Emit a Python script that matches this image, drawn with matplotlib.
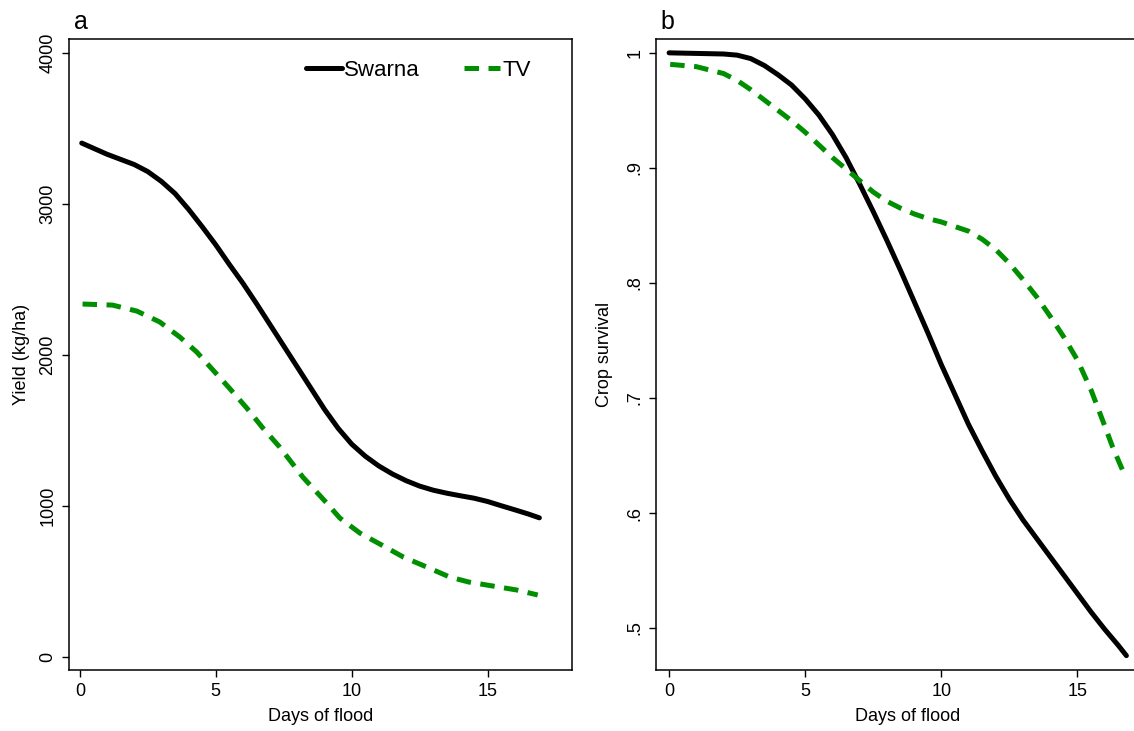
import matplotlib
matplotlib.use("Agg")
import matplotlib.pyplot as plt

plt.rcParams['font.family'] = ['Liberation Sans', 'DejaVu Sans']

# --- panel a: yield (kg/ha) by days of flood ---
days_swarna_yield = [0.07, 1, 2, 2.5, 3, 3.5, 4, 4.5, 5, 5.5, 6, 6.5, 7, 7.5, 8, 8.5,
                     9, 9.5, 10, 10.5, 11, 11.5, 12, 12.5, 13, 13.5, 14, 14.5, 15,
                     15.5, 16, 16.5, 16.9]
swarna_yield = [3404, 3330, 3262, 3215, 3150, 3070, 2965, 2850, 2730, 2600, 2475, 2340,
                2200, 2060, 1920, 1780, 1640, 1515, 1410, 1330, 1265, 1212, 1168, 1132,
                1105, 1085, 1068, 1052, 1030, 1002, 975, 947, 922]

days_tv_yield = [0.1, 1.2, 2.1, 2.94, 3.68, 4.3, 4.9, 5.5, 6.14, 6.73, 7.35, 8.2,
                 9.08, 9.56, 10.3, 11.1, 11.9, 12.76, 13.6, 14.3, 15.2, 16.07, 16.84]
tv_yield = [2338, 2331, 2291, 2219, 2119, 2020, 1900, 1781, 1649, 1517, 1391, 1192,
            1020, 921, 821, 742, 662, 596, 530, 497, 470, 444, 411]

# --- panel b: crop survival by days of flood ---
days_swarna_surv = [0, 1, 2, 2.5, 3, 3.5, 4, 4.5, 5, 5.5, 6, 6.5, 7, 7.5, 8, 8.5, 9,
                    9.5, 10, 10.5, 11, 11.5, 12, 12.5, 13, 13.5, 14, 14.5, 15, 15.5,
                    16, 16.5, 16.8]
swarna_surv = [1.0, 0.9995, 0.999, 0.998, 0.995, 0.989, 0.981, 0.972, 0.960, 0.946,
               0.929, 0.909, 0.886, 0.862, 0.837, 0.811, 0.784, 0.757, 0.729, 0.703,
               0.677, 0.654, 0.632, 0.612, 0.594, 0.578, 0.562, 0.546, 0.530, 0.514,
               0.499, 0.485, 0.476]

days_tv_surv = [0.04, 1, 2, 2.5, 3, 3.5, 4, 4.5, 5, 5.5, 6, 6.5, 7, 7.5, 8, 8.5, 9,
                9.5, 10, 10.5, 11, 11.5, 12, 12.5, 13, 13.5, 14, 14.5, 15, 15.5, 16,
                16.3, 16.7]
tv_surv = [0.990, 0.988, 0.982, 0.976, 0.968, 0.959, 0.950, 0.941, 0.931, 0.920, 0.909,
           0.899, 0.889, 0.879, 0.871, 0.865, 0.860, 0.856, 0.853, 0.849, 0.845, 0.838,
           0.829, 0.817, 0.803, 0.788, 0.771, 0.753, 0.733, 0.707, 0.676, 0.657, 0.635]

x_ticks = [0, 5, 10, 15]
yield_ticks = [0, 1000, 2000, 3000, 4000]
surv_ticks = [0.5, 0.6, 0.7, 0.8, 0.9, 1.0]
surv_labels = ['.5', '.6', '.7', '.8', '.9', '1']

GREEN = '#008f00'
FS = 13

fig = plt.figure(figsize=(11.34, 7.31), dpi=100)
ax_a = fig.add_axes([0.0608, 0.0834, 0.4436, 0.8632])
ax_b = fig.add_axes([0.5785, 0.0834, 0.4436, 0.8632])


def style_axis(ax):
    for s in ax.spines.values():
        s.set_linewidth(1.1)
    ax.tick_params(direction='out', length=5, width=1.0, labelsize=FS, pad=4)
    ax.tick_params(axis='y', labelrotation=90)
    for lab in ax.get_yticklabels():
        lab.set_va('center')
    ax.set_xlabel('Days of flood', fontsize=13, labelpad=6)


# panel a
ax_a.plot(days_swarna_yield, swarna_yield, color='black', lw=3.6,
          solid_capstyle='round', solid_joinstyle='round', label='Swarna')
ax_a.plot(days_tv_yield, tv_yield, color=GREEN, lw=3.6, dashes=(2.9, 1.9), label='TV')
ax_a.set_xlim(-0.4, 18.1)
ax_a.set_ylim(-86, 4093)
ax_a.set_xticks(x_ticks)
ax_a.set_yticks(yield_ticks)
ax_a.set_ylabel('Yield (kg/ha)', fontsize=13, labelpad=7)
style_axis(ax_a)
ax_a.legend(loc='upper right', bbox_to_anchor=(0.918, 0.967), ncol=2, frameon=False,
            fontsize=16, handlelength=1.6, handletextpad=0.1, columnspacing=2.0,
            borderaxespad=0, borderpad=0)
fig.text(0.065, 0.96, 'a', fontsize=18, ha='left', va='baseline')

# panel b
ax_b.plot(days_swarna_surv, swarna_surv, color='black', lw=3.6,
          solid_capstyle='round', solid_joinstyle='round')
ax_b.plot(days_tv_surv, tv_surv, color=GREEN, lw=3.6, dashes=(2.9, 1.9))
ax_b.set_xlim(-0.48, 18.0)
ax_b.set_ylim(0.4635, 1.012)
ax_b.set_xticks(x_ticks)
ax_b.set_yticks(surv_ticks)
ax_b.set_yticklabels(surv_labels)
ax_b.set_ylabel('Crop survival', fontsize=13, labelpad=10)
style_axis(ax_b)
fig.text(0.582, 0.96, 'b', fontsize=18, ha='left', va='baseline')

fig.savefig('out.png', dpi=100)
